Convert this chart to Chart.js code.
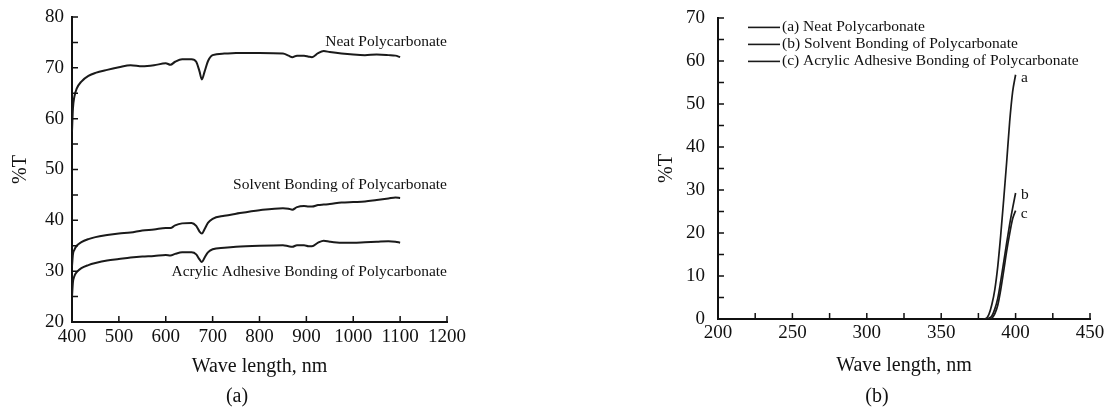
<!DOCTYPE html>
<html>
<head>
<meta charset="utf-8">
<script src="https://cdn.jsdelivr.net/npm/chart.js@4.4.1/dist/chart.umd.min.js"></script>
<style>
  html, body { margin: 0; padding: 0; background: #fff; }
  #wrap { position: relative; width: 1111px; height: 409px; overflow: hidden;
          font-family: "Liberation Serif", "Times New Roman", serif; color: #111; }
  .box { position: absolute; top: 0; height: 409px; }
  .cap { position: absolute; font-size: 20px; line-height: 1; transform: translateX(-50%); }
</style>
</head>
<body>
<div id="wrap">
  <div class="box" style="left:0;width:560px"><canvas id="chartA"></canvas></div>
  <div class="box" style="left:580px;width:531px"><canvas id="chartB"></canvas></div>
  <div class="cap" style="left:237px;top:385px">(a)</div>
  <div class="cap" style="left:877px;top:385px">(b)</div>
</div>
<script>
// (a) visible range transmittance
const waveA = [400, 402, 405, 410, 420, 435, 450, 475, 500, 525, 550, 575, 600, 610, 620, 635, 655, 665, 672, 677, 683, 690, 700, 725, 750, 800, 850, 862, 870, 880, 895, 905, 912, 925, 937, 950, 975, 1000, 1025, 1050, 1075, 1090, 1100];
const neatA = [57.5, 62.0, 64.3, 65.9, 67.3, 68.4, 69.0, 69.6, 70.1, 70.5, 70.3, 70.5, 70.9, 70.6, 71.2, 71.7, 71.7, 71.2, 69.3, 67.7, 69.3, 71.3, 72.5, 72.8, 72.9, 72.9, 72.8, 72.4, 72.1, 72.4, 72.4, 72.2, 72.1, 72.9, 73.3, 73.1, 72.8, 72.6, 72.5, 72.6, 72.5, 72.4, 72.1];
const solventA = [31.0, 33.3, 34.2, 35.0, 35.7, 36.3, 36.7, 37.1, 37.4, 37.6, 38.0, 38.2, 38.5, 38.5, 39.0, 39.4, 39.5, 38.9, 37.8, 37.4, 38.3, 39.5, 40.3, 40.9, 41.3, 42.0, 42.4, 42.3, 42.1, 42.6, 42.8, 42.7, 42.7, 43.0, 43.1, 43.2, 43.5, 43.6, 43.7, 44.0, 44.3, 44.5, 44.4];
const acrylicA = [25.0, 27.8, 29.0, 29.8, 30.6, 31.2, 31.6, 32.1, 32.4, 32.7, 32.9, 33.0, 33.2, 33.1, 33.4, 33.7, 33.7, 33.3, 32.3, 31.8, 32.7, 33.7, 34.3, 34.6, 34.8, 35.0, 35.1, 34.9, 34.8, 35.1, 35.1, 34.9, 34.9, 35.6, 36.0, 35.8, 35.6, 35.6, 35.7, 35.8, 35.9, 35.8, 35.6];
const namesA = ['Neat Polycarbonate', 'Solvent Bonding of Polycarbonate', 'Acrylic Adhesive Bonding of Polycarbonate'];

// (b) UV cut-off region
const waveB = [378, 380, 382, 384, 386, 388, 390, 392, 394, 396, 398, 400];
const neatB = [0, 0.1, 1.0, 3.3, 6.8, 12.2, 19.5, 27.8, 36.5, 45.8, 52.8, 56.8];
const solventB = [0, 0, 0.2, 0.7, 2.3, 4.8, 8.8, 13.2, 17.7, 22.0, 25.8, 29.3];
const acrylicB = [0, 0, 0, 0.2, 1.2, 3.2, 6.8, 11.2, 15.8, 19.8, 23.3, 25.2];
const namesB = ['(a) Neat Polycarbonate', '(b) Solvent Bonding of Polycarbonate', '(c) Acrylic Adhesive Bonding of Polycarbonate'];
const tagsB = ['a', 'b', 'c'];

const ink = '#111';
const serif = '"Liberation Serif", "Times New Roman", serif';

function pts(xs, ys) { return xs.map((x, i) => ({ x: x, y: ys[i] })); }

function line(label, data, w) {
  return { label: label, data: data, borderColor: '#1a1a1a', borderWidth: w,
           pointRadius: 0, fill: false, cubicInterpolationMode: 'monotone' };
}

// short inward ticks along both axes
const innerTicks = {
  id: 'innerTicks',
  afterDraw(chart, args, opts) {
    const { ctx, chartArea: a, scales: { x, y } } = chart;
    ctx.save();
    ctx.strokeStyle = ink;
    ctx.lineWidth = 1.5;
    ctx.beginPath();
    for (let v = x.min + opts.xStep; v <= x.max + 1e-6; v += opts.xStep) {
      const px = x.getPixelForValue(v);
      ctx.moveTo(px, a.bottom);
      ctx.lineTo(px, a.bottom - opts.len);
    }
    for (let v = y.min + opts.yStep; v <= y.max + 1e-6; v += opts.yStep) {
      const py = y.getPixelForValue(v);
      ctx.moveTo(a.left, py);
      ctx.lineTo(a.left + opts.len, py);
    }
    ctx.stroke();
    ctx.restore();
  }
};

// text placed next to the curves
const curveNotes = {
  id: 'curveNotes',
  afterDatasetsDraw(chart, args, opts) {
    const { ctx, scales: { x, y } } = chart;
    ctx.save();
    ctx.font = opts.font;
    ctx.fillStyle = ink;
    ctx.textBaseline = 'middle';
    opts.items.forEach(it => {
      ctx.textAlign = it.align;
      ctx.fillText(it.text, x.getPixelForValue(it.x), y.getPixelForValue(it.y));
    });
    ctx.restore();
  }
};

// stacked legend in the top left corner of the plot
const cornerLegend = {
  id: 'cornerLegend',
  afterDraw(chart, args, opts) {
    if (!opts.show) return;
    const { ctx, chartArea: a } = chart;
    ctx.save();
    ctx.font = opts.font;
    ctx.fillStyle = ink;
    ctx.textBaseline = 'middle';
    ctx.textAlign = 'left';
    chart.data.datasets.forEach((ds, i) => {
      const yy = a.top + opts.top + i * opts.gap;
      ctx.strokeStyle = ds.borderColor;
      ctx.lineWidth = 1.6;
      ctx.beginPath();
      ctx.moveTo(a.left + opts.x0, yy);
      ctx.lineTo(a.left + opts.x1, yy);
      ctx.stroke();
      ctx.fillText(ds.label, a.left + opts.x1 + 2, yy);
    });
    ctx.restore();
  }
};

function axis(min, max, step, pad, size, title, titlePad) {
  return {
    type: 'linear', min: min, max: max,
    ticks: { stepSize: step, padding: pad, color: ink, autoSkip: false, maxRotation: 0,
             font: { family: serif, size: 19 }, callback: v => String(v) },
    grid: { display: false, drawTicks: false },
    border: { color: ink, width: 2 },
    title: { display: true, text: title, color: ink, padding: titlePad,
             font: { family: serif, size: 20 } },
    afterFit(s) {
      if (s.isHorizontal()) { s.height = size; s.paddingLeft = 0; s.paddingRight = 0; }
      else { s.width = size; s.paddingTop = 0; s.paddingBottom = 0; }
    }
  };
}

new Chart(document.getElementById('chartA'), {
  type: 'line',
  data: { datasets: [
    line(namesA[0], pts(waveA, neatA), 2),
    line(namesA[1], pts(waveA, solventA), 2),
    line(namesA[2], pts(waveA, acrylicA), 2)
  ] },
  options: {
    responsive: true, maintainAspectRatio: false, animation: false,
    layout: { padding: { left: 0, right: 113, top: 17, bottom: 0 } },
    scales: {
      x: axis(400, 1200, 100, 4, 87, 'Wave length, nm', { top: 0, bottom: 30 }),
      y: axis(20, 80, 10, 8, 72, '%T', { top: 9, bottom: 0 })
    },
    plugins: {
      legend: { display: false }, tooltip: { enabled: false },
      innerTicks: { xStep: 100, yStep: 5, len: 6 },
      curveNotes: { font: '15.5px ' + serif, items: [
        { text: namesA[0], x: 1200, y: 75.1, align: 'right' },
        { text: namesA[1], x: 1200, y: 46.9, align: 'right' },
        { text: namesA[2], x: 1200, y: 29.8, align: 'right' }
      ] },
      cornerLegend: { show: false }
    }
  },
  plugins: [innerTicks, curveNotes, cornerLegend]
});

new Chart(document.getElementById('chartB'), {
  type: 'line',
  data: { datasets: [
    line(namesB[0], pts(waveB, neatB), 1.7),
    line(namesB[1], pts(waveB, solventB), 1.7),
    line(namesB[2], pts(waveB, acrylicB), 1.7)
  ] },
  options: {
    responsive: true, maintainAspectRatio: false, animation: false,
    layout: { padding: { left: 68, right: 21, top: 18, bottom: 0 } },
    scales: {
      x: axis(200, 450, 50, 3, 90, 'Wave length, nm', { top: 0, bottom: 31 }),
      y: axis(0, 70, 10, 13, 70, '%T', { top: 6.5, bottom: 0 })
    },
    plugins: {
      legend: { display: false }, tooltip: { enabled: false },
      innerTicks: { xStep: 25, yStep: 5, len: 6 },
      curveNotes: { font: '15.5px ' + serif, items: [
        { text: tagsB[0], x: 403.6, y: 56.1, align: 'left' },
        { text: tagsB[1], x: 403.6, y: 28.9, align: 'left' },
        { text: tagsB[2], x: 403.4, y: 24.5, align: 'left' }
      ] },
      cornerLegend: { show: true, font: '15.5px ' + serif, top: 9.4, gap: 17, x0: 30, x1: 62 }
    }
  },
  plugins: [innerTicks, curveNotes, cornerLegend]
});
</script>
</body>
</html>
